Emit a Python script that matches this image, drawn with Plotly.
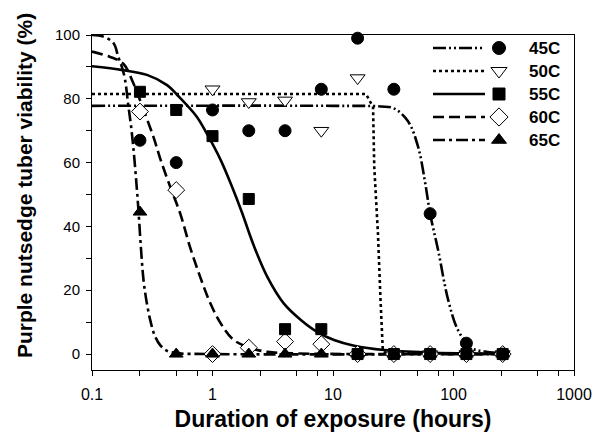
import plotly.graph_objects as go

# ---------------- data ----------------
hours = [0.25, 0.5, 1, 2, 4, 8, 16, 32, 64, 128, 256]
hours_50 = [1, 2, 4, 8, 16, 32, 64, 128, 256]

v45 = [67, 60, 76.5, 70, 70, 83, 99, 83, 44, 3.4, 0]
v50 = [83, 79, 79.5, 70, 86.5, 0, 0, 0, 0]
v55 = [82.2, 76.5, 68.3, 48.6, 7.8, 7.8, 0, 0, 0, 0, 0]
v60 = [76, 51.4, 0, 2, 3.9, 3.1, 0, 0, 0, 0, 0]
v65 = [44.5, 0, 0, 0, 0, 0, 0, 0, 0, 0, 0]

# fitted curves
c45_x = [0.1, 10, 25, 32, 41.9, 50.8, 58, 64, 74.5, 90.3, 109, 141, 180, 270]
c45_y = [77.8, 77.8, 77.6, 77, 73, 65, 54, 44, 32.6, 17, 7.5, 1.9, 0.8, 0.2]

c50_x = [0.1, 18.8, 20.0, 21.5, 22.0, 23.6, 24.8, 25.9, 27.5, 270]
c50_y = [81.5, 81.5, 79.6, 77.5, 58.7, 37.8, 17, 1.2, 0.3, 0]

c55_x = [0.1, 0.18, 0.286, 0.42, 0.51, 0.74, 0.9, 1.17, 1.45, 1.75, 2.2, 2.85,
         3.9, 5.41, 7.5, 10.2, 15, 26.5, 60, 270]
c55_y = [90.2, 89, 87.5, 84.3, 81.2, 74.4, 69, 60.8, 52.5, 44.5, 34, 24.2,
         15.9, 10.7, 6.8, 4.4, 2.6, 1.25, 0.5, 0.1]

c60_x = [0.1, 0.14, 0.182, 0.221, 0.268, 0.324, 0.37, 0.446, 0.54, 0.65, 0.79,
         0.96, 1.17, 1.5, 2.07, 2.85, 5, 270]
c60_y = [94.8, 93.2, 91, 84.8, 76.5, 68, 61, 52.4, 44, 33.6, 24.2,
         15.9, 9.6, 4.4, 1.9, 0.7, 0.2, 0]

c65_x = [0.1, 0.124, 0.151, 0.165, 0.177, 0.188, 0.2, 0.21, 0.22, 0.232, 0.243,
         0.255, 0.268, 0.285, 0.304, 0.33, 0.368, 0.42, 0.5, 1, 270]
c65_y = [100, 99.5, 97.4, 93.2, 90, 86, 78, 72, 65, 55, 45,
         33, 23, 16, 10.7, 6, 2.8, 1, 0.3, 0, 0]

names = ["45C", "50C", "55C", "60C", "65C"]

x_ticks = [0.1, 1, 10, 100, 1000]
x_ticktext = ["0.1", "1", "10", "100", "1000"]
x_minor = [0.25, 0.5, 0.75, 2.5, 5, 7.5, 25, 50, 75, 250, 500, 750]
y_ticks = [0, 20, 40, 60, 80, 100]
y_minor = [10, 30, 50, 70, 90]

x_title = "Duration of exposure (hours)"
y_title = "Purple nutsedge tuber viability (%)"

# ---------------- styles ----------------
dashes = ["13px,3px,2px,3px,2px,3px", "3px,3px", "solid", "11px,5px", "12px,4px,3px,4px"]
symbols = ["circle", "triangle-down", "square", "diamond", "triangle-up"]
fills = ["black", "white", "black", "white", "black"]
msizes = [12, 13, 11, 13, 12]
shapes = ["spline", "linear", "spline", "spline", "spline"]

curves = [(c45_x, c45_y), (c50_x, c50_y), (c55_x, c55_y), (c60_x, c60_y), (c65_x, c65_y)]
points = [(hours, v45), (hours_50, v50), (hours, v55), (hours, v60), (hours, v65)]

fig = go.Figure()

for i in range(5):
    cx, cy = curves[i]
    fig.add_trace(go.Scatter(
        x=cx, y=cy, mode="lines", showlegend=False,
        line=dict(color="black", width=2.6, dash=dashes[i], shape=shapes[i]),
        hoverinfo="skip"))

draw_order = [1, 3, 0, 2, 4]
for i in draw_order:
    px, py = points[i]
    fig.add_trace(go.Scatter(
        x=px, y=py, mode="markers", name=names[i], showlegend=False,
        marker=dict(symbol=symbols[i], size=msizes[i], color=fills[i],
                    line=dict(color="black", width=1)),
        cliponaxis=False))

# ---------------- custom legend (line sample, marker, label) ----------------
leg_rows = [48, 71, 94, 117, 140]
leg_line_x = [433, 485]
leg_marker_x = 499
leg_text_x = 527
for i in range(5):
    yy = leg_rows[i]
    fig.add_trace(go.Scatter(
        x=leg_line_x, y=[yy, yy], xaxis="x2", yaxis="y2", mode="lines",
        showlegend=False, hoverinfo="skip",
        line=dict(color="black", width=2.6, dash=dashes[i])))
    fig.add_trace(go.Scatter(
        x=[leg_marker_x], y=[yy], xaxis="x2", yaxis="y2", mode="markers",
        showlegend=False, hoverinfo="skip",
        marker=dict(symbol=symbols[i], size=msizes[i] + 1, color=fills[i],
                    line=dict(color="black", width=1))))
    fig.add_annotation(x=leg_text_x, y=yy, xref="x2", yref="y2", text=names[i],
                       showarrow=False, xanchor="left", yanchor="middle",
                       font=dict(family="Liberation Sans, Arial", size=17,
                                 color="black", weight="bold"))

font_fam = "Liberation Sans, Arial, sans-serif"

# y-axis title placed as rotated text (sits slightly above the plot centre)
fig.add_annotation(x=-0.141, y=0.549, xref="paper", yref="paper", text=y_title,
                   textangle=-90, showarrow=False, xanchor="center", yanchor="middle",
                   font=dict(size=21, family=font_fam, color="black", weight="bold"))

fig.update_layout(
    width=603, height=445,
    margin=dict(l=92, r=29, t=35, b=75),
    paper_bgcolor="white", plot_bgcolor="white",
    font=dict(family=font_fam, color="black"),
    xaxis=dict(
        type="log", range=[-1, 3],
        tickmode="array", tickvals=x_ticks, ticktext=x_ticktext,
        ticks="outside", ticklen=5, tickwidth=1, tickcolor="black",
        ticklabelstandoff=5,
        minor=dict(tickmode="array", tickvals=x_minor, ticks="outside",
                   ticklen=5, tickwidth=1, tickcolor="black", showgrid=False),
        showgrid=False, zeroline=False,
        showline=True, linecolor="black", linewidth=1, mirror=True,
        tickfont=dict(size=16, family=font_fam),
        title=dict(text=x_title,
                   font=dict(size=23, family=font_fam, weight="bold"),
                   standoff=8),
    ),
    yaxis=dict(
        range=[-5, 100],
        tickmode="array", tickvals=y_ticks,
        ticks="outside", ticklen=5, tickwidth=1, tickcolor="black",
        ticklabelstandoff=3,
        minor=dict(tickmode="array", tickvals=y_minor, ticks="outside",
                   ticklen=5, tickwidth=1, tickcolor="black", showgrid=False),
        showgrid=False, zeroline=False,
        showline=True, linecolor="black", linewidth=1, mirror=True,
        tickfont=dict(size=15, family=font_fam),
    ),
    xaxis2=dict(overlaying="x", range=[92, 574], visible=False, fixedrange=True),
    yaxis2=dict(overlaying="y", range=[370, 35], visible=False, fixedrange=True),
)

fig.write_html("out.html")
